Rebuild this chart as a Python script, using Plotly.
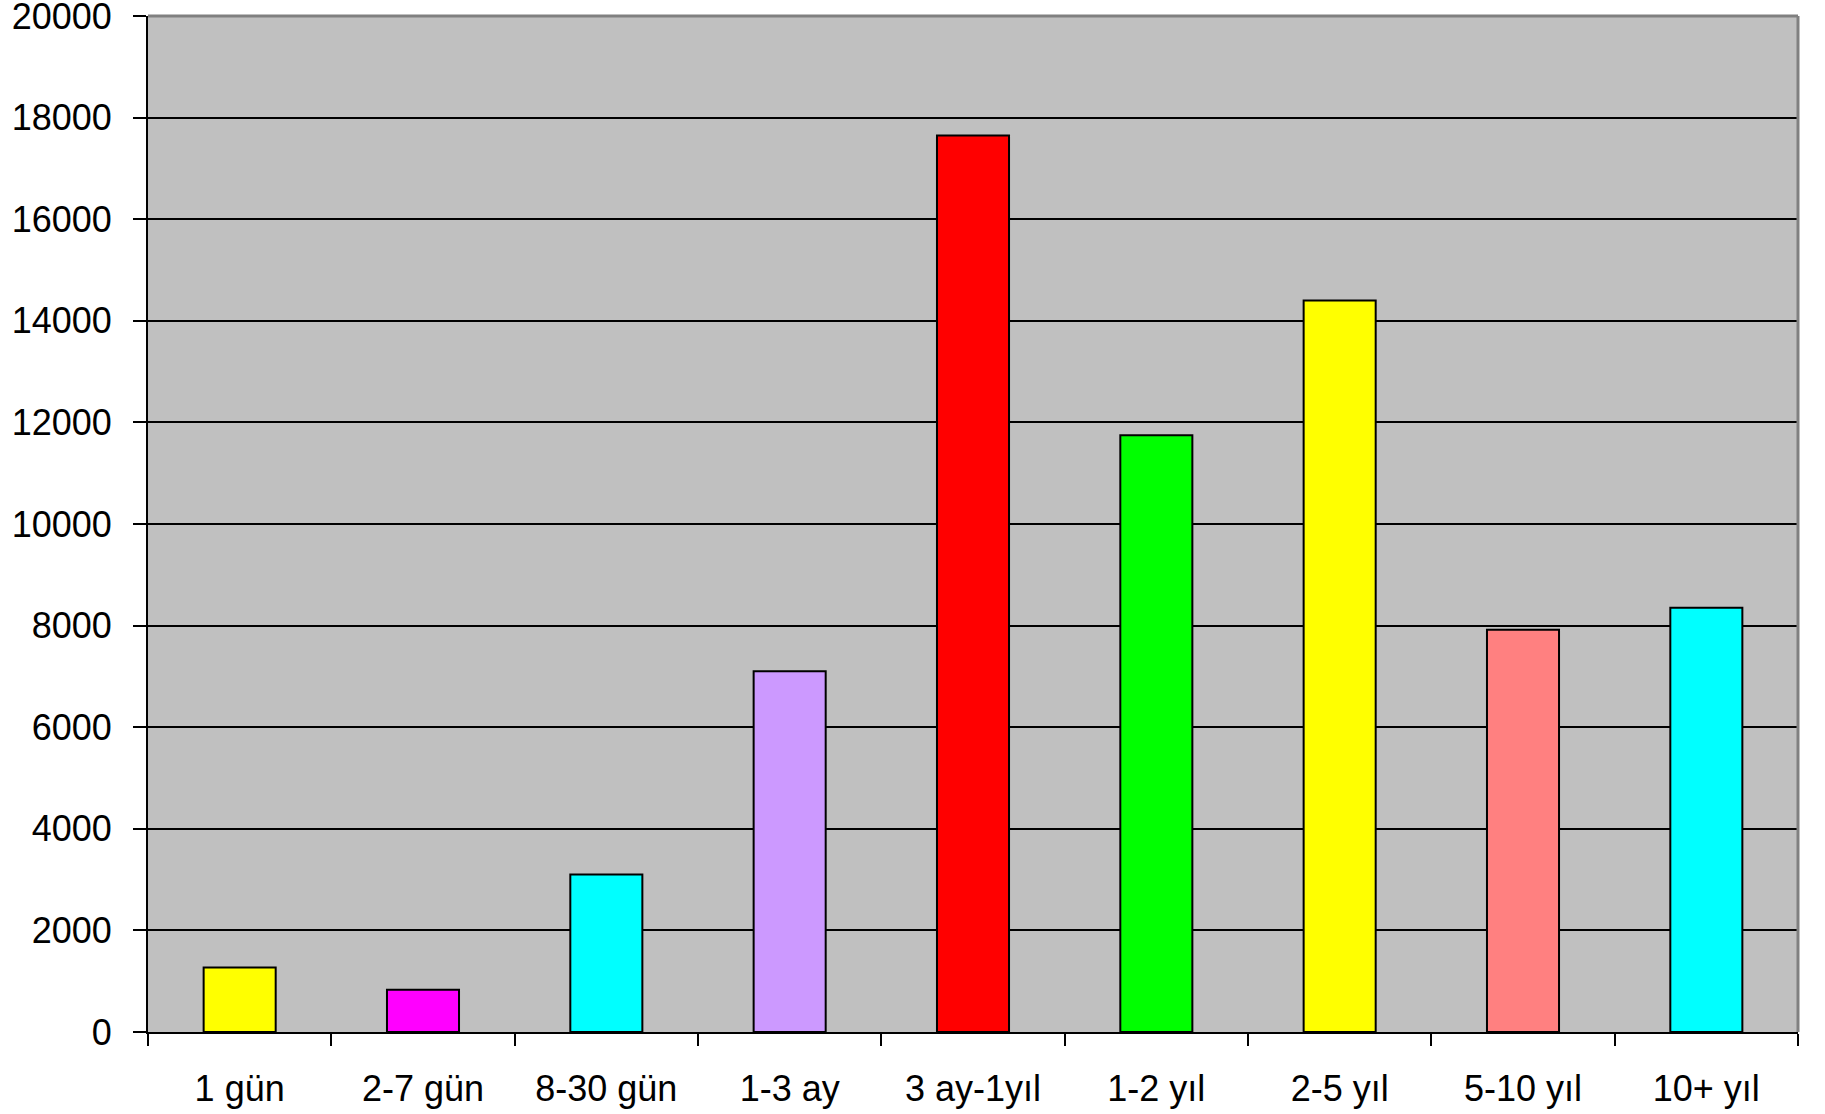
import plotly.graph_objects as go

categories = ["1 gün", "2-7 gün", "8-30 gün", "1-3 ay", "3 ay-1yıl", "1-2 yıl", "2-5 yıl", "5-10 yıl", "10+ yıl"]
values = [1270, 830, 3100, 7100, 17650, 11750, 14400, 7920, 8350]
colors = ["#FFFF00", "#FF00FF", "#00FFFF", "#CC99FF", "#FF0000", "#00FF00", "#FFFF00", "#FF8080", "#00FFFF"]
y_ticks = [0, 2000, 4000, 6000, 8000, 10000, 12000, 14000, 16000, 18000, 20000]
y_tick_labels = [str(v) for v in y_ticks]

fig = go.Figure(go.Bar(
    x=categories, y=values,
    marker=dict(color=colors, line=dict(color="black", width=2)),
))

font = "Liberation Sans, Arial, sans-serif"
fig.update_layout(
    width=1825, height=1114,
    margin=dict(l=148, r=27, t=16, b=82),
    paper_bgcolor="white", plot_bgcolor="#C0C0C0",
    bargap=0.607, showlegend=False,
    font=dict(family=font, size=36, color="black"),
    xaxis=dict(
        type="category", tickson="boundaries", ticks="outside", ticklen=12,
        tickwidth=2, tickcolor="black", showline=True, linecolor="black",
        linewidth=2, showgrid=False, ticklabelstandoff=24, automargin=False,
        tickfont=dict(family=font, size=36, color="black"),
    ),
    yaxis=dict(
        range=[0, 20002], tickvals=y_ticks, ticktext=y_tick_labels,
        ticks="outside", ticklen=13, ticklabeloverflow="allow", automargin=False,
        tickwidth=2, tickcolor="black", showline=True, linecolor="black",
        linewidth=2, showgrid=True, gridcolor="black", gridwidth=2,
        zeroline=False, ticklabelstandoff=14,
        tickfont=dict(family=font, size=36, color="black"),
    ),
    shapes=[
        dict(type="line", xref="paper", yref="paper", x0=0, x1=1, y0=1, y1=1,
             line=dict(color="#808080", width=3), layer="above"),
        dict(type="line", xref="paper", yref="paper", x0=1, x1=1, y0=0, y1=1,
             line=dict(color="#808080", width=3), layer="above"),
    ],
)

fig.write_html("out.html", config={"displayModeBar": False},
               post_script="document.body.style.margin='0';")
